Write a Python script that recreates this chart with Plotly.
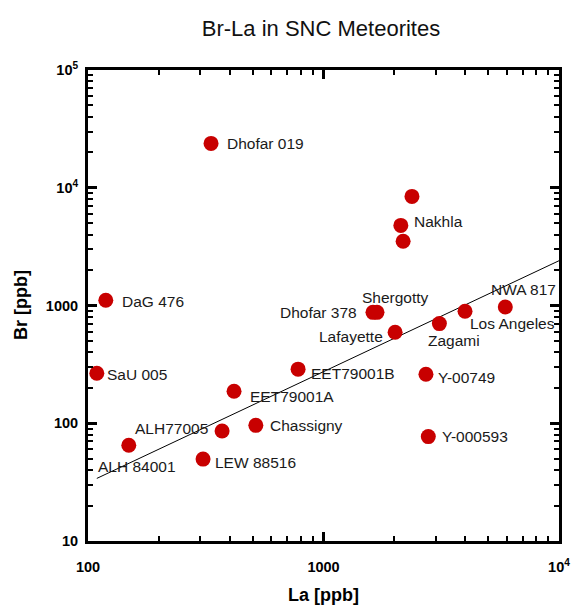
import numpy as np
import plotly.graph_objects as go

# ---- data ----
names = ["Dhofar 019", "", "Nakhla", "", "DaG 476", "SaU 005", "ALH 84001",
         "ALH77005", "LEW 88516", "Chassigny", "EET79001A", "EET79001B",
         "Dhofar 378", "Shergotty", "Lafayette", "Zagami", "Los Angeles",
         "NWA 817", "Y-00749", "Y-000593"]
la_ppb = [333, 2375, 2130, 2178, 119, 109, 149,
          371, 308, 516, 417, 780,
          1622, 1687, 2014, 3105, 3990,
          5915, 2723, 2786]
br_ppb = [23800, 8440, 4790, 3510, 1107, 266, 65,
          86, 49.6, 96, 187, 288,
          875, 875, 593, 702, 893,
          971, 261, 77]

trend_la = [109, 10000]
trend_br = [34, 2400]

x_tickvals = [100, 1000, 10000]
x_ticktext = ["100", "1000", "10<sup>4</sup>"]
y_tickvals = [10, 100, 1000, 10000, 100000]
y_ticktext = ["10", "100", "1000", "10<sup>4</sup>", "10<sup>5</sup>"]

# ---- label placement (style: pixel offsets, anchor) ----
label_style = [
    (16, 0, "left"), None, (13, -4, "left"), None, (16, 1, "left"),
    (10, 1, "left"), (-31, 21, "left"), (-14, -2, "right"), (12, 3, "left"),
    (14, 0, "left"), (16, 5, "left"), (13, 4, "left"), (-16, 0, "right"),
    (-15, -15, "left"), (-12, 4, "right"), (-11, 17, "left"), (5, 12, "left"),
    (-14, -18, "left"), (12, 3, "left"), (14, 0, "left"),
]

FONT = "Liberation Sans, Arial, sans-serif"
RED = "#c80000"
W, H = 571, 606
L, R, T, B = 88, 12, 70, 65


def minor_positions(decades):
    return [m * 10 ** k for k in decades for m in range(2, 10)]


fig = go.Figure()
fig.add_trace(go.Scatter(x=trend_la, y=trend_br, mode="lines",
                         line=dict(color="black", width=1), hoverinfo="skip",
                         showlegend=False))
fig.add_trace(go.Scatter(x=la_ppb, y=br_ppb, mode="markers",
                         marker=dict(color=RED, size=15, line=dict(width=0)),
                         text=names, showlegend=False, cliponaxis=False))

annotations = []
for name, x, y, st in zip(names, la_ppb, br_ppb, label_style):
    if st is None or not name:
        continue
    dx, dy, anchor = st
    annotations.append(dict(
        x=np.log10(x), y=np.log10(y), xref="x", yref="y", text=name,
        showarrow=False, xanchor=anchor, yanchor="middle",
        xshift=dx, yshift=-dy, borderpad=0, borderwidth=0,
        font=dict(family=FONT, size=15.5, color="#1a1a1a")))

# axis titles
pw, ph = W - L - R, H - T - B
annotations.append(dict(text="<b>La [ppb]</b>", xref="paper", yref="paper",
                        x=(323 - L) / pw, y=-(595 - (H - B)) / ph,
                        xanchor="center", yanchor="middle", showarrow=False,
                        font=dict(family=FONT, size=18, color="black")))
annotations.append(dict(text="<b>Br [ppb]</b>", xref="paper", yref="paper",
                        x=-(L - 21) / pw, y=(H - B - 305) / ph, textangle=-90,
                        xanchor="center", yanchor="middle", showarrow=False,
                        font=dict(family=FONT, size=18, color="black")))


def tick_common(minor_vals):
    return dict(
        type="log", showgrid=False, zeroline=False,
        ticks="inside", ticklen=9, tickwidth=3, tickcolor="black",
        minor=dict(ticks="inside", ticklen=5, tickwidth=2, tickcolor="black",
                   showgrid=False, tickmode="array", tickvals=minor_vals),
        automargin=False,
    )


xminor = minor_positions([2, 3])
yminor = minor_positions([1, 2, 3, 4])
tfont = dict(family=FONT, size=14.5, color="black", weight="bold")

fig.update_layout(
    width=W, height=H,
    margin=dict(l=L, r=R, t=T, b=B),
    paper_bgcolor="white", plot_bgcolor="white",
    title=dict(text="Br-La in SNC Meteorites", x=321 / W, xanchor="center",
               y=1 - 28 / H, yanchor="middle", yref="container",
               font=dict(family=FONT, size=22, color="#111")),
    xaxis=dict(range=[2, 4], tickvals=x_tickvals, ticktext=x_ticktext,
               showline=True, linecolor="black", linewidth=3, mirror=True,
               tickfont=tfont, ticklabelstandoff=11, **tick_common(xminor)),
    yaxis=dict(range=[1, 5], tickvals=y_tickvals, ticktext=y_ticktext,
               showline=True, linecolor="black", linewidth=3, mirror=True,
               tickfont=tfont, ticklabelstandoff=4, **tick_common(yminor)),
    xaxis2=dict(range=[2, 4], tickvals=x_tickvals, overlaying="x", side="top",
                anchor="y", showline=False, showticklabels=False,
                **tick_common(xminor)),
    yaxis2=dict(range=[1, 5], tickvals=y_tickvals, overlaying="y",
                side="right", anchor="x", showline=False,
                showticklabels=False, **tick_common(yminor)),
    annotations=annotations,
)
# invisible trace to activate the mirror axes
fig.add_trace(go.Scatter(x=trend_la, y=trend_br, xaxis="x2", yaxis="y2",
                         mode="lines", line=dict(width=0), opacity=0,
                         hoverinfo="skip", showlegend=False))

fig.write_html("out.html",
               config={"displayModeBar": False},
               post_script="document.body.style.margin='0';"
                           "document.body.style.padding='0';")
